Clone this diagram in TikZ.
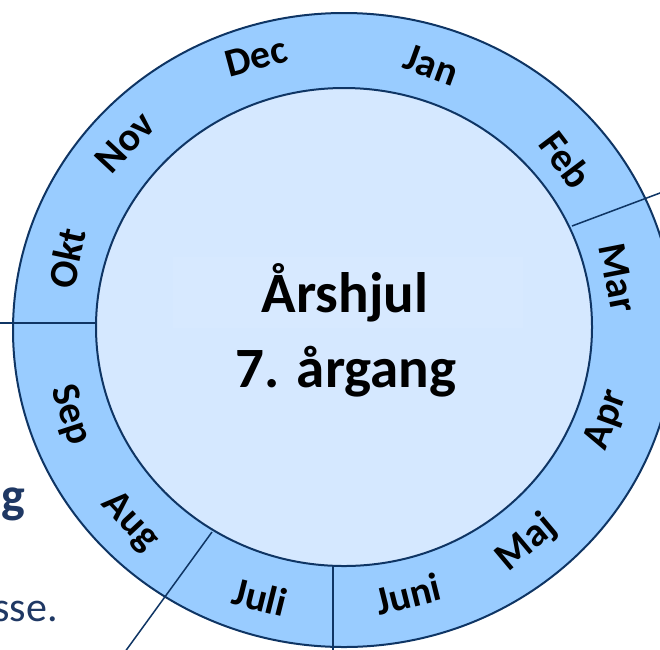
\documentclass[tikz,border=0pt]{standalone}
\usepackage{fontspec}
\setmainfont{Carlito}
\definecolor{ringc}{HTML}{99CCFF}
\definecolor{innerc}{HTML}{D5E8FF}
\definecolor{navy}{HTML}{0F3564}
\definecolor{txtblue}{HTML}{1F3864}
\begin{document}
\begin{tikzpicture}[x=1pt,y=-1pt,
  month/.style={font=\fontsize{40}{44}\selectfont\bfseries, inner sep=0pt},
  rimline/.style={draw=navy, line width=2pt},
  divider/.style={draw=navy, line width=1.5pt},
  sidetext/.style={text=txtblue, inner sep=0pt, anchor=base east}]
\useasboundingbox (0,0) rectangle (660,649);
\begin{scope}
\clip (0,0) rectangle (660,649);
\fill[white] (0,0) rectangle (660,649);
% ring and hub
\draw[rimline, fill=ringc] (344,330) ellipse [x radius=331pt, y radius=317pt];
\draw[rimline, fill=innerc] (344,327) ellipse [x radius=248pt, y radius=239pt];
\fill[white, opacity=0.06] (173,257) rectangle (523,328);
% divider lines
\coordinate (fm) at (572,226);
\coordinate (fmout) at (700,178);
\coordinate (os) at (96,323);
\coordinate (osout) at (-20,323);
\coordinate (aj) at (212,532);
\coordinate (ajout) at (90,700);
\coordinate (jj) at (333,566);
\coordinate (jjout) at (333,700);
\draw[divider] (fm) -- (fmout);
\draw[divider] (os) -- (osout);
\draw[divider] (aj) -- (ajout);
\draw[divider] (jj) -- (jjout);
% title
\node[font=\fontsize{57}{60}\selectfont\bfseries, inner sep=0pt, anchor=base] (t1) at (345,312) {Årshjul};
\node[font=\fontsize{57}{60}\selectfont\bfseries, inner sep=0pt, anchor=base] (t2) at (346,387) {7. årgang};
% months
\node[month, rotate=-20] (jan) at (431,65) {Jan};
\node[month, rotate=-53] (feb) at (566,160) {Feb};
\node[month, rotate=-79] (mar) at (618,278) {Mar};
\node[month, rotate=70] (apr) at (607,420) {Apr};
\node[month, rotate=40] (maj) at (527,543) {Maj};
\node[month, rotate=14] (jun) at (408,594) {Juni};
\node[month, rotate=-14] (jul) at (260,597) {Juli};
\node[month, rotate=-47] (aug) at (130,522) {Aug};
\node[month, rotate=-72] (sep) at (70,415) {Sep};
\node[month, rotate=78] (okt) at (67,258) {Okt};
\node[month, rotate=47] (nov) at (125,142) {Nov};
\node[month, rotate=15] (dec) at (256,57) {Dec};
% partial side texts
\node[sidetext, font=\fontsize{50}{54}\selectfont\bfseries] (gtxt) at (25,512) {g};
\node[sidetext, font=\fontsize{42}{46}\selectfont] (ssetxt) at (58,621) {sse.};
\end{scope}
\end{tikzpicture}
\end{document}
